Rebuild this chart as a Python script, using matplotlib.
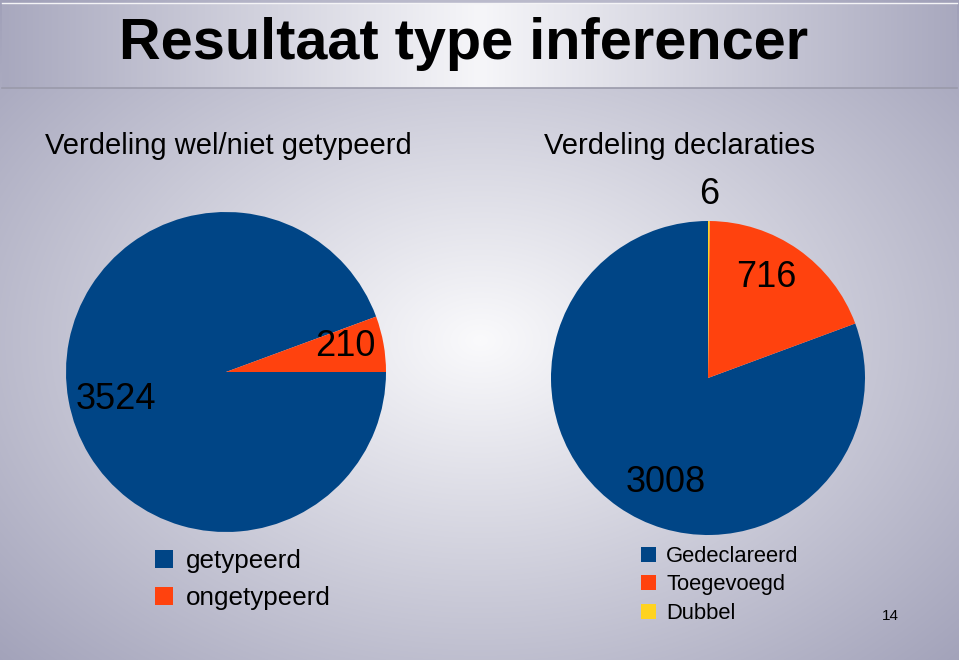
import numpy as np
import matplotlib.pyplot as plt

plt.rcParams['font.family'] = ['Liberation Sans', 'DejaVu Sans']

W, H = 959, 660

# data
title = "Resultaat type inferencer"
left_title = "Verdeling wel/niet getypeerd"
left_labels = ["getypeerd", "ongetypeerd"]
left_values = [3524, 210]
right_title = "Verdeling declaraties"
right_labels = ["Gedeclareerd", "Toegevoegd", "Dubbel"]
right_values = [3008, 716, 6]
page_number = "14"

colors = ["#004586", "#ff420e", "#ffd320"]

fig = plt.figure(figsize=(W / 100, H / 100), dpi=100)

# slide background: radial gradient, white centre to grey-blue edges
bg = fig.add_axes([0, 0, 1, 1])
bg.set_xlim(0, W)
bg.set_ylim(H, 0)
bg.axis('off')
yy, xx = np.mgrid[0:H, 0:W]
t = np.hypot((xx - 480) / 480, (yy - 340) / 340) / np.sqrt(2)
t = np.clip(t, 0, 1)
white = np.array([250, 250, 252]) / 255
edge = np.array([160, 160, 184]) / 255
img = white + (edge - white) * t[..., None]
bg.imshow(img, extent=[0, W, H, 0], aspect='auto', zorder=0)

# title bar with horizontal gradient
tb = np.abs(np.arange(W) - 480) / 480
bar_c = np.array([246, 246, 249]) / 255
bar_e = np.array([168, 168, 190]) / 255
bar = bar_c + (bar_e - bar_c) * tb[None, :, None]
bar = np.repeat(bar, 2, axis=0)
bg.imshow(bar, extent=[2, 957, 88, 3], aspect='auto', zorder=1)
bg.plot([2, 957], [88, 88], color="#9a9aaa", lw=1.2, zorder=2)
bg.plot([2, 957], [3, 3], color="#f4f4f6", lw=1.0, zorder=2)

bg.text(464, 59, title, fontsize=41.5, fontweight='bold', ha='center', va='baseline', zorder=3)
bg.text(228, 154, left_title, fontsize=21, ha='center', va='baseline', zorder=3)
bg.text(680, 154, right_title, fontsize=21, ha='center', va='baseline', zorder=3)
bg.text(890, 620, page_number, fontsize=11, ha='center', va='baseline', zorder=3)


def draw_pie(cx, cy, r, values, label_r, nudge, counterclock, startangle):
    ax = fig.add_axes([(cx - r) / W, (H - cy - r) / H, 2 * r / W, 2 * r / H])
    wedges, texts = ax.pie(values, colors=colors[:len(values)], startangle=startangle,
                           counterclock=counterclock, labels=[str(v) for v in values],
                           wedgeprops=dict(linewidth=0),
                           textprops=dict(fontsize=26, ha='center', va='center'))
    for w, tx, d, n in zip(wedges, texts, label_r, nudge):
        mid = np.deg2rad((w.theta1 + w.theta2) / 2 + n)
        tx.set_position((d * np.cos(mid), d * np.sin(mid)))
    ax.set_xlim(-1, 1)
    ax.set_ylim(-1, 1)
    return wedges


lw = draw_pie(226, 372, 160, left_values, [0.71, 0.76], [4, 2], False, 0)
rw = draw_pie(708, 378, 157, right_values, [0.72, 0.74, 1.17], [13, 5, 0], True, 90)

fig.legend(lw, left_labels, loc='upper left', bbox_to_anchor=(155 / W, 1 - 549 / H),
           frameon=False, fontsize=18.7, handlelength=0.7, handleheight=0.7,
           handletextpad=0.5, labelspacing=0.5, borderpad=0, borderaxespad=0)
fig.legend(rw, right_labels, loc='upper left', bbox_to_anchor=(641 / W, 1 - 546 / H),
           frameon=False, fontsize=15.8, handlelength=0.7, handleheight=0.7,
           handletextpad=0.45, labelspacing=0.34, borderpad=0, borderaxespad=0)

fig.savefig("out.png", dpi=100)
